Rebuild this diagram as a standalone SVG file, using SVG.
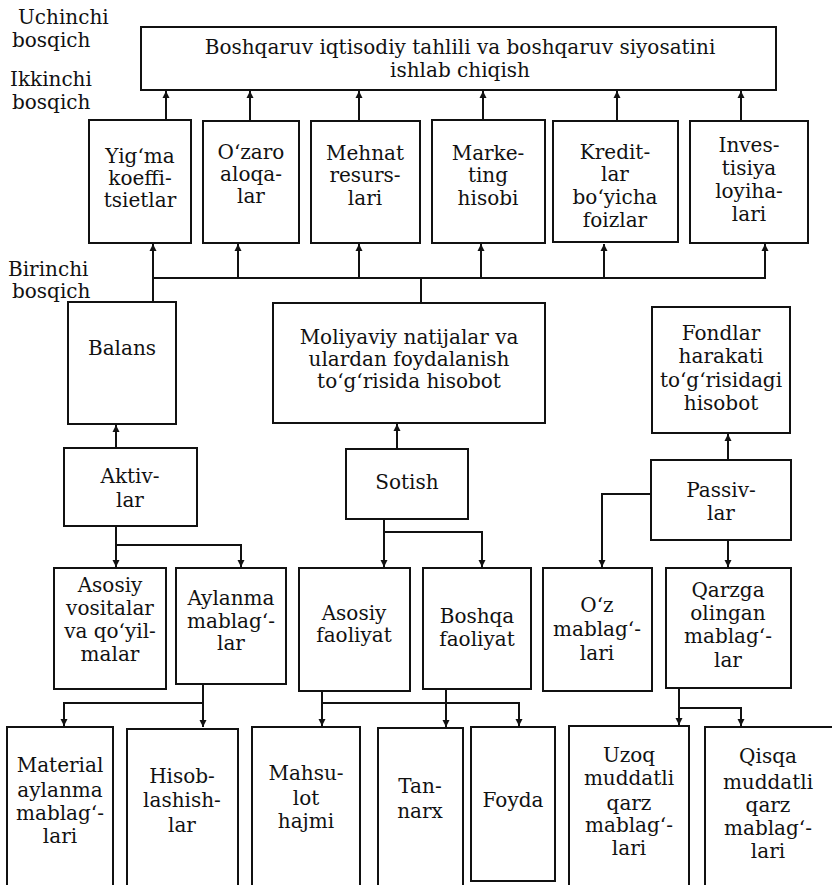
<svg xmlns="http://www.w3.org/2000/svg" width="832" height="885" viewBox="0 0 832 885">
<style>
rect.b{fill:#fff;stroke:#111;stroke-width:2}
text{font-family:"DejaVu Serif","Liberation Serif",serif;font-size:20px;fill:#111}
.c text{text-anchor:middle}
#connectors path,#connectors line{stroke:#111;stroke-width:2;fill:none}
</style>
<defs>
<marker id="ah" viewBox="0 0 10 10" refX="10" refY="5" markerWidth="7" markerHeight="8" markerUnits="userSpaceOnUse" orient="auto">
<path d="M0,0 L10,5 L0,10 z" fill="#111"/>
</marker>
</defs>
<rect width="832" height="885" fill="#fff"/>

<g id="stage-labels">
<text x="18" y="24">Uchinchi</text>
<text x="12" y="47">bosqich</text>
<text x="10" y="86">Ikkinchi</text>
<text x="12" y="109">bosqich</text>
<text x="8" y="276">Birinchi</text>
<text x="12" y="298">bosqich</text>
</g>

<g id="connectors">
<line x1="166" y1="120" x2="166" y2="91" marker-end="url(#ah)"/>
<line x1="250" y1="120" x2="250" y2="91" marker-end="url(#ah)"/>
<line x1="359" y1="120" x2="359" y2="91" marker-end="url(#ah)"/>
<line x1="483" y1="120" x2="483" y2="91" marker-end="url(#ah)"/>
<line x1="617" y1="120" x2="617" y2="91" marker-end="url(#ah)"/>
<line x1="741" y1="120" x2="741" y2="91" marker-end="url(#ah)"/>
<line x1="152" y1="278" x2="766" y2="278"/>
<line x1="153" y1="278" x2="153" y2="244" marker-end="url(#ah)"/>
<line x1="238" y1="278" x2="238" y2="244" marker-end="url(#ah)"/>
<line x1="359" y1="278" x2="359" y2="244" marker-end="url(#ah)"/>
<line x1="481" y1="278" x2="481" y2="244" marker-end="url(#ah)"/>
<line x1="604" y1="278" x2="604" y2="244" marker-end="url(#ah)"/>
<line x1="765" y1="278" x2="765" y2="244" marker-end="url(#ah)"/>
<line x1="153" y1="278" x2="153" y2="302"/>
<line x1="421" y1="278" x2="421" y2="303"/>
<line x1="116" y1="448" x2="116" y2="425" marker-end="url(#ah)"/>
<line x1="116" y1="526" x2="116" y2="567" marker-end="url(#ah)"/>
<path d="M116,545 H241 V567" marker-end="url(#ah)"/>
<line x1="397" y1="449" x2="397" y2="424" marker-end="url(#ah)"/>
<line x1="384" y1="519" x2="384" y2="567" marker-end="url(#ah)"/>
<path d="M384,532 H482 V567" marker-end="url(#ah)"/>
<line x1="728" y1="460" x2="728" y2="434" marker-end="url(#ah)"/>
<path d="M651,494 H602 V567" marker-end="url(#ah)"/>
<line x1="728" y1="540" x2="728" y2="567" marker-end="url(#ah)"/>
<line x1="203" y1="684" x2="203" y2="727" marker-end="url(#ah)"/>
<path d="M203,703 H64 V726" marker-end="url(#ah)"/>
<line x1="322" y1="691" x2="322" y2="726" marker-end="url(#ah)"/>
<path d="M322,703 H519 V726" marker-end="url(#ah)"/>
<line x1="446" y1="689" x2="446" y2="727" marker-end="url(#ah)"/>
<line x1="679" y1="688" x2="679" y2="725" marker-end="url(#ah)"/>
<path d="M679,708 H741 V726" marker-end="url(#ah)"/>
</g>

<g id="top" class="c">
<rect class="b" x="141" y="27" width="635" height="63"/>
<text x="460" y="54">Boshqaruv iqtisodiy tahlili va boshqaruv siyosatini</text>
<text x="460" y="77">ishlab chiqish</text>
</g>

<g id="yigma" class="c">
<rect class="b" x="89" y="120" width="102" height="123"/>
<text x="140" y="163">Yigʻma</text>
<text x="140" y="185">koeffi-</text>
<text x="140" y="207">tsietlar</text>
</g>
<g id="ozaro" class="c">
<rect class="b" x="203" y="121" width="96" height="122"/>
<text x="251" y="159">Oʻzaro</text>
<text x="251" y="181">aloqa-</text>
<text x="251" y="203">lar</text>
</g>
<g id="mehnat" class="c">
<rect class="b" x="311" y="121" width="109" height="122"/>
<text x="365" y="160">Mehnat</text>
<text x="365" y="182">resurs-</text>
<text x="365" y="205">lari</text>
</g>
<g id="marketing" class="c">
<rect class="b" x="432" y="120" width="113" height="123"/>
<text x="488" y="160">Marke-</text>
<text x="488" y="182">ting</text>
<text x="488" y="205">hisobi</text>
</g>
<g id="kredit" class="c">
<rect class="b" x="553" y="121" width="125" height="121"/>
<text x="615" y="159">Kredit-</text>
<text x="615" y="181">lar</text>
<text x="615" y="204">boʻyicha</text>
<text x="615" y="227">foizlar</text>
</g>
<g id="investitsiya" class="c">
<rect class="b" x="690" y="121" width="118" height="122"/>
<text x="749" y="152">Inves-</text>
<text x="749" y="175">tisiya</text>
<text x="749" y="198">loyiha-</text>
<text x="749" y="221">lari</text>
</g>

<g id="balans" class="c">
<rect class="b" x="68" y="302" width="108" height="122"/>
<text x="122" y="355">Balans</text>
</g>
<g id="moliyaviy" class="c">
<rect class="b" x="273" y="303" width="272" height="120"/>
<text x="409" y="344">Moliyaviy natijalar va</text>
<text x="409" y="366">ulardan foydalanish</text>
<text x="409" y="388">toʻgʻrisida hisobot</text>
</g>
<g id="fondlar" class="c">
<rect class="b" x="652" y="307" width="138" height="126"/>
<text x="721" y="340">Fondlar</text>
<text x="721" y="363">harakati</text>
<text x="721" y="387">toʻgʻrisidagi</text>
<text x="721" y="410">hisobot</text>
</g>

<g id="aktivlar" class="c">
<rect class="b" x="64" y="448" width="133" height="78"/>
<text x="130" y="483">Aktiv-</text>
<text x="130" y="507">lar</text>
</g>
<g id="sotish" class="c">
<rect class="b" x="346" y="449" width="122" height="70"/>
<text x="407" y="489">Sotish</text>
</g>
<g id="passivlar" class="c">
<rect class="b" x="651" y="460" width="140" height="80"/>
<text x="721" y="497">Passiv-</text>
<text x="721" y="520">lar</text>
</g>

<g id="asosiy-vositalar" class="c">
<rect class="b" x="54" y="568" width="112" height="121"/>
<text x="110" y="592">Asosiy</text>
<text x="110" y="615">vositalar</text>
<text x="110" y="638">va qoʻyil-</text>
<text x="110" y="661">malar</text>
</g>
<g id="aylanma" class="c">
<rect class="b" x="176" y="568" width="110" height="116"/>
<text x="231" y="605">Aylanma</text>
<text x="231" y="628">mablagʻ-</text>
<text x="231" y="650">lar</text>
</g>
<g id="asosiy-faoliyat" class="c">
<rect class="b" x="299" y="568" width="111" height="123"/>
<text x="354" y="620">Asosiy</text>
<text x="354" y="642">faoliyat</text>
</g>
<g id="boshqa-faoliyat" class="c">
<rect class="b" x="423" y="568" width="108" height="121"/>
<text x="477" y="623">Boshqa</text>
<text x="477" y="646">faoliyat</text>
</g>
<g id="oz-mablaglari" class="c">
<rect class="b" x="543" y="568" width="109" height="123"/>
<text x="597" y="612">Oʻz</text>
<text x="597" y="636">mablagʻ-</text>
<text x="597" y="660">lari</text>
</g>
<g id="qarzga" class="c">
<rect class="b" x="666" y="568" width="125" height="120"/>
<text x="728" y="597">Qarzga</text>
<text x="728" y="620">olingan</text>
<text x="728" y="643">mablagʻ-</text>
<text x="728" y="667">lar</text>
</g>

<g id="material" class="c">
<rect class="b" x="7" y="727" width="106" height="170"/>
<text x="60" y="772">Material</text>
<text x="60" y="797">aylanma</text>
<text x="60" y="820">mablagʻ-</text>
<text x="60" y="843">lari</text>
</g>
<g id="hisoblashishlar" class="c">
<rect class="b" x="127" y="729" width="111" height="170"/>
<text x="182" y="783">Hisob-</text>
<text x="182" y="807">lashish-</text>
<text x="182" y="832">lar</text>
</g>
<g id="mahsulot" class="c">
<rect class="b" x="252" y="727" width="108" height="170"/>
<text x="306" y="780">Mahsu-</text>
<text x="306" y="805">lot</text>
<text x="306" y="828">hajmi</text>
</g>
<g id="tannarx" class="c">
<rect class="b" x="378" y="728" width="85" height="170"/>
<text x="420" y="793">Tan-</text>
<text x="420" y="818">narx</text>
</g>
<g id="foyda" class="c">
<rect class="b" x="471" y="727" width="84" height="154"/>
<text x="513" y="807">Foyda</text>
</g>
<g id="uzoq" class="c">
<rect class="b" x="569" y="726" width="120" height="170"/>
<text x="629" y="762">Uzoq</text>
<text x="629" y="785">muddatli</text>
<text x="629" y="810">qarz</text>
<text x="629" y="832">mablagʻ-</text>
<text x="629" y="855">lari</text>
</g>
<g id="qisqa" class="c">
<rect class="b" x="705" y="727" width="130" height="170"/>
<text x="768" y="763">Qisqa</text>
<text x="768" y="789">muddatli</text>
<text x="768" y="812">qarz</text>
<text x="768" y="835">mablagʻ-</text>
<text x="768" y="858">lari</text>
</g>
</svg>
